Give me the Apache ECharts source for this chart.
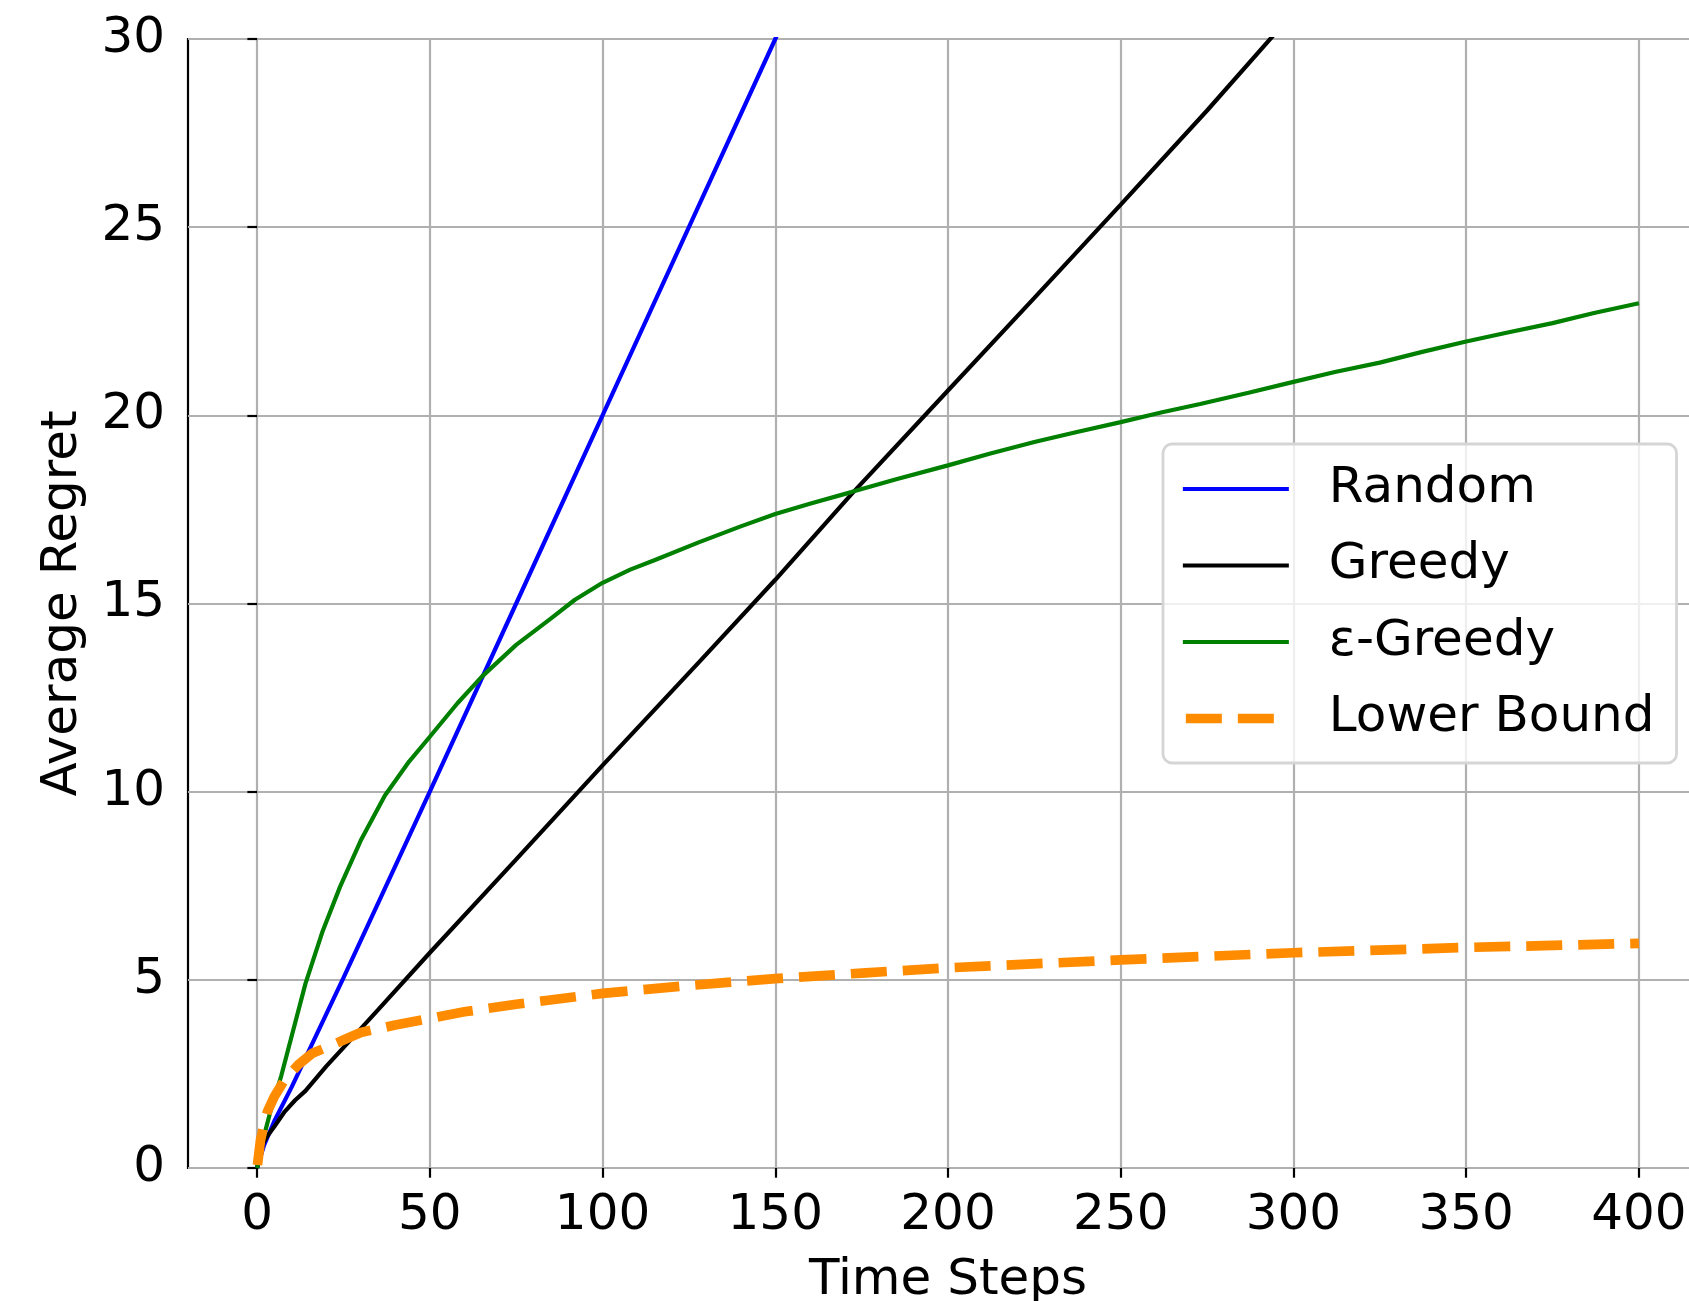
<!DOCTYPE html>
<html>
<head>
<meta charset="utf-8">
<script src="https://cdn.jsdelivr.net/npm/echarts@6/dist/echarts.min.js"></script>
<style>
  html, body { margin: 0; padding: 0; background: #fff; }
  #regret { width: 1689px; height: 1301px; }
</style>
</head>
<body>
<div id="regret"></div>
<script>
// values
var randomSteps  = [0, 2, 5, 10, 25, 50, 75, 100, 125, 150, 160];
var randomRegret = [0, 0.6, 1.25, 2.15, 5.05, 10.0, 15.0, 20.0, 25.0, 30.0, 32.0];

var greedySteps  = [0, 1, 2, 3, 5, 8, 11, 14, 20, 26, 35, 50, 75, 100, 128, 150, 172, 200, 225, 250, 275, 300];
var greedyRegret = [0, 0.45, 0.7, 0.85, 1.1, 1.5, 1.8, 2.05, 2.7, 3.3, 4.2, 5.72, 8.2, 10.7, 13.45, 15.63, 17.9, 20.66, 23.12, 25.6, 28.1, 30.7];

var epsSteps  = [0, 1, 2, 3, 4, 5, 7, 10, 14, 19, 24, 30, 37, 44, 50, 58, 65, 75, 85, 92, 100, 108, 115, 128, 140, 150, 160, 172, 185, 200, 212, 225, 237, 250, 262, 273, 287, 300, 312, 325, 337, 350, 362, 375, 387, 400];
var epsRegret = [0, 0.45, 0.85, 1.2, 1.55, 1.85, 2.45, 3.5, 4.9, 6.3, 7.47, 8.7, 9.9, 10.8, 11.46, 12.35, 13.05, 13.9, 14.6, 15.1, 15.55, 15.9, 16.15, 16.63, 17.05, 17.38, 17.65, 17.96, 18.3, 18.67, 18.98, 19.29, 19.55, 19.82, 20.08, 20.3, 20.6, 20.89, 21.15, 21.4, 21.68, 21.96, 22.2, 22.45, 22.72, 22.98];

var lowerSteps  = [0, 1, 2, 3, 5, 8, 12, 16, 20, 25, 30, 40, 50, 60, 75, 100, 125, 150, 175, 200, 250, 300, 350, 400];
var lowerRegret = [0, 0.75, 1.15, 1.5, 1.9, 2.35, 2.75, 3.05, 3.2, 3.4, 3.6, 3.8, 3.97, 4.15, 4.35, 4.64, 4.85, 5.03, 5.18, 5.32, 5.53, 5.72, 5.86, 5.97];

var xTicks = [0, 50, 100, 150, 200, 250, 300, 350, 400];

function pares(xs, ys) {
  return xs.map(function (x, i) { return [x, ys[i]]; });
}

var fonte = 'DejaVu Sans';
var chart = echarts.init(document.getElementById('regret'), null, { renderer: 'canvas' });

var option = {
  animation: false,
  textStyle: { fontFamily: fonte },
  grid: {
    left: 188,
    top: 39,
    width: 1520,
    height: 1129,
    outerBoundsMode: 'none',
    containLabel: false,
    show: true,
    borderColor: '#000',
    borderWidth: 2.2,
    backgroundColor: 'transparent'
  },
  legend: {
    orient: 'vertical',
    left: 1163,
    top: 444,
    padding: [20, 22, 19.5, 15],
    itemWidth: 106,
    itemHeight: 14,
    itemGap: 26.5,
    backgroundColor: 'rgba(255,255,255,0.8)',
    borderColor: '#d5d5d5',
    borderWidth: 2.8,
    borderRadius: 9,
    itemStyle: { opacity: 0 },
    lineStyle: { width: 'inherit', type: 'inherit' },
    textStyle: { fontFamily: fonte, fontSize: 50, color: '#000', padding: [0, 0, 0, 35] },
    data: ['Random', 'Greedy', 'ε-Greedy', 'Lower Bound']
  },
  xAxis: {
    type: 'value',
    min: -20,
    max: 420,
    name: 'Time Steps',
    nameLocation: 'middle',
    nameGap: 88,
    nameTextStyle: { fontFamily: fonte, fontSize: 50, color: '#000' },
    axisLine: { show: false },
    axisTick: { show: true, length: 9.7, customValues: xTicks, lineStyle: { color: '#000', width: 2.2 } },
    axisLabel: { customValues: xTicks, fontFamily: fonte, fontSize: 50, color: '#000', margin: 23 },
    splitLine: { show: true, lineStyle: { color: '#b0b0b0', width: 2.2 } }
  },
  yAxis: {
    type: 'value',
    min: 0,
    max: 30,
    interval: 5,
    name: 'Average Regret',
    nameLocation: 'middle',
    nameGap: 100,
    nameTextStyle: { fontFamily: fonte, fontSize: 50, color: '#000' },
    axisLine: { show: false },
    axisTick: { show: true, length: 9.7, lineStyle: { color: '#000', width: 2.2 } },
    axisLabel: { fontFamily: fonte, fontSize: 50, color: '#000', margin: 23 },
    splitLine: { show: true, lineStyle: { color: '#b0b0b0', width: 2.2 } }
  },
  series: [
    {
      name: 'Random', type: 'line', symbol: 'none', showSymbol: false,
      data: pares(randomSteps, randomRegret),
      lineStyle: { color: '#0000ff', width: 4.2 }, itemStyle: { color: '#0000ff' }
    },
    {
      name: 'Greedy', type: 'line', symbol: 'none', showSymbol: false,
      data: pares(greedySteps, greedyRegret),
      lineStyle: { color: '#000000', width: 4.2 }, itemStyle: { color: '#000000' }
    },
    {
      name: 'ε-Greedy', type: 'line', symbol: 'none', showSymbol: false,
      data: pares(epsSteps, epsRegret),
      lineStyle: { color: '#008000', width: 4.2 }, itemStyle: { color: '#008000' }
    },
    {
      name: 'Lower Bound', type: 'line', symbol: 'none', showSymbol: false,
      data: pares(lowerSteps, lowerRegret),
      lineStyle: { color: '#ff8c00', width: 9.7, type: [36, 16], dashOffset: 49, cap: 'butt' }, itemStyle: { color: '#ff8c00' }
    }
  ]
};
chart.setOption(option);
</script>
</body>
</html>
